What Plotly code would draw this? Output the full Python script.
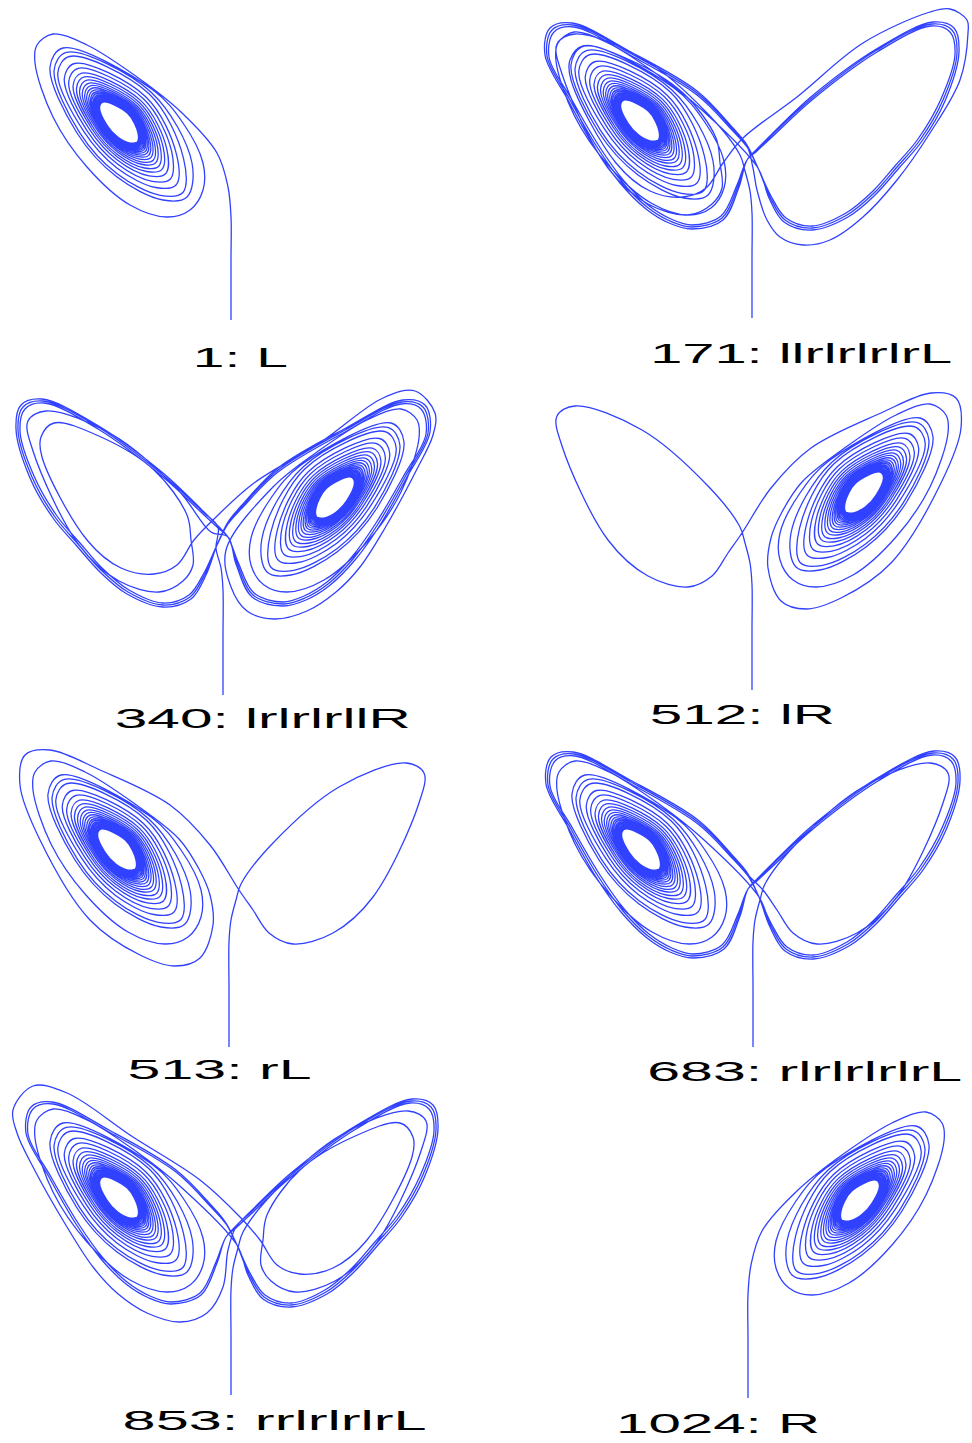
"""Eight symbolic Lorenz orbits drawn from hand-traced points."""

import plotly.graph_objects as go
from plotly.subplots import make_subplots

# Traced points, x and y in picture pixels measured from the foot of the stem.
STEM_CURL = [(0, 0), (0, 60), (0, 103), (-3, 133), (-14, 167)]
STEM_L = [(0, 0), (0, 60), (0, 105), (-2, 127), (-7, 147)]
STEM_R = [(0, 0), (0, 60), (0, 105), (2, 127), (7, 147)]

LEFT_A = [(9, 178), (-31, 215), (-98, 258), (-164, 302), (-198, 309), (-218, 285), (-214, 262),
          (-198, 228), (-164, 168), (-138, 128), (-114, 102), (-84, 82), (-51, 73), (-24, 82),
          (-8, 108), (-3, 145)]
LEFT_A2 = [(9, 176), (-31, 212), (-98, 253), (-160, 297), (-192, 304), (-212, 282), (-210, 260),
           (-194, 226), (-162, 167), (-137, 128), (-113, 103), (-84, 84), (-51, 76), (-24, 84),
           (-8, 108), (-3, 145)]
LEFT_B1 = [(-5, 172), (-20, 190), (-55, 225), (-122, 265), (-179, 293), (-200, 288), (-205, 262),
           (-182, 218), (-155, 171), (-130, 136), (-105, 111), (-82, 97), (-60, 91), (-30, 100),
           (-14, 132), (-5, 158)]
LEFT_B2 = [(-5, 171), (-20, 188), (-55, 223), (-122, 263), (-178, 291), (-198, 286), (-203, 261),
           (-180, 218), (-153, 172), (-128, 137), (-104, 113), (-81, 99), (-60, 93), (-31, 102),
           (-15, 133), (-5, 158)]
LEFT_B3 = [(-5, 173), (-20, 191), (-55, 227), (-123, 267), (-180, 295), (-202, 290), (-207, 263),
           (-184, 218), (-157, 170), (-132, 135), (-106, 109), (-83, 95), (-60, 89), (-29, 98),
           (-13, 131), (-5, 158)]
LEFT_C = [(-12, 163), (-44, 204), (-110, 260), (-177, 284), (-195, 274), (-190, 244), (-144, 150),
          (-104, 114), (-64, 103), (-40, 114)]
LEFT_D = [(-30, 130), (-32, 155), (-36, 180), (-69, 225), (-122, 258), (-169, 272), (-182, 258),
          (-181, 238), (-136, 155), (-102, 127), (-69, 121), (-46, 130), (-29, 155)]
LEFT_W = [(-19, 202), (-59, 242), (-129, 277), (-179, 297), (-204, 292), (-209, 262), (-189, 207),
          (-139, 127), (-89, 92), (-54, 81), (-29, 89), (-16, 122), (-19, 152), (-30, 178)]

RIGHT_A = [(-9, 180), (45, 221), (111, 275), (178, 306), (198, 309), (215, 298), (216, 285),
           (208, 238), (178, 185), (145, 138), (111, 101), (78, 78), (51, 73), (28, 81),
           (15, 98), (5, 128), (1, 150)]
RIGHT_B1 = [(5, 168), (20, 183), (60, 220), (125, 268), (180, 294), (200, 288), (205, 265),
            (191, 218), (168, 178), (145, 151), (122, 125), (95, 103), (60, 90), (33, 98),
            (18, 121), (6, 150)]
RIGHT_B2 = [(5, 167), (20, 181), (60, 218), (125, 266), (179, 292), (198, 286), (203, 264),
            (189, 219), (166, 179), (143, 152), (121, 127), (94, 105), (60, 92), (34, 100),
            (19, 122), (6, 150)]
RIGHT_B3 = [(5, 169), (20, 184), (60, 222), (126, 270), (181, 296), (202, 290), (207, 266),
            (193, 217), (170, 177), (147, 150), (123, 123), (96, 101), (60, 88), (32, 96),
            (17, 120), (6, 150)]
RIGHT_C = [(12, 163), (44, 204), (110, 260), (177, 284), (195, 274), (190, 244), (144, 150),
           (104, 114), (64, 103), (40, 114)]
RIGHT_C_EXIT = [(24, 137), (10, 157)]
RIGHT_D = [(30, 130), (32, 155), (36, 180), (69, 225), (122, 258), (169, 272), (182, 258),
           (181, 238), (136, 155), (102, 127), (69, 121), (46, 130), (29, 155)]

OUTER = [(-50, 208), (-94, 243), (-144, 275), (-178, 286), (-194, 275), (-196, 257), (-178, 203),
         (-144, 153), (-101, 115), (-64, 103), (-41, 110), (-28, 130), (-28, 157), (-48, 197)]

SPIRAL = [
    (-78, 230), (-168, 272), (-181, 253), (-154, 187), (-114, 143), (-68, 120), (-44, 123), (-39, 157),
    (-80.1, 228.1), (-164.7, 267.6), (-176.9, 249.7), (-151.5, 187.7), (-113.9, 146.3), (-70.7, 124.7), (-48.1, 127.5),
    (-47.5, 161.7), (-82, 226.3), (-161.7, 263.5), (-173.2, 246.7), (-147.4, 188.8), (-113.8, 151.8), (-75.2, 132.5), (-55, 135),
    (-54.5, 165.6), (-85.3, 223.3), (-156.5, 256.5), (-166.7, 241.5), (-144.2, 189.6), (-113.8, 156.2), (-78.8, 138.7), (-60.6, 141),
    (-59.3, 168.3), (-87.6, 221.2), (-152.9, 251.7), (-162.3, 237.9), (-141.3, 190.4), (-113.7, 160), (-82, 144.2), (-65.4, 146.2),
    (-64.2, 170.9), (-89.9, 219.1), (-149.3, 246.8), (-157.9, 234.3), (-139, 191), (-113.6, 163.1), (-84.4, 148.5), (-69.2, 150.4),
    (-67.9, 173), (-91.6, 217.5), (-146.6, 243.1), (-154.5, 231.6), (-137.2, 191.5), (-113.6, 165.5), (-86.4, 152), (-72.3, 153.7),
    (-71.2, 174.8), (-93.2, 216.1), (-144.1, 239.8), (-151.4, 229.1), (-135.3, 192), (-113.5, 168), (-88.5, 155.5), (-75.4, 157.1),
    (-74.1, 176.5), (-94.6, 214.8), (-141.9, 236.9), (-148.7, 226.9), (-133.9, 192.4), (-113.5, 169.9), (-90, 158.2), (-77.8, 159.7),
    (-76.7, 177.9), (-95.8, 213.7), (-140, 234.3), (-146.3, 225), (-132.5, 192.8), (-113.5, 171.9), (-91.6, 160.9), (-80.2, 162.4),
    (-79, 179.1), (-96.9, 212.7), (-138.3, 232), (-144.3, 223.3), (-131.2, 193.1), (-113.4, 173.5), (-93, 163.3), (-82.3, 164.6),
    (-81.2, 180.4), (-97.9, 211.8), (-136.7, 229.8), (-142.2, 221.7), (-130.1, 193.4), (-113.4, 175), (-94.2, 165.4), (-84.2, 166.6),
    (-83, 181.4), (-98.8, 211), (-135.3, 228), (-140.5, 220.3), (-129.2, 193.7), (-113.4, 176.3), (-95.2, 167.2), (-85.7, 168.4),
    (-84.5, 182.2), (-99.5, 210.3), (-134.2, 226.5), (-139.2, 219.2), (-128.4, 193.9), (-113.4, 177.4), (-96.1, 168.7), (-87.1, 169.9),
    (-86, 183), (-100.2, 209.7), (-133.1, 225), (-137.8, 218.1), (-127.7, 194.1), (-113.4, 178.3), (-96.9, 170.1), (-88.3, 171.1),
    (-87.1, 183.6), (-100.7, 209.2), (-132.3, 223.9), (-136.8, 217.3), (-127.1, 194.2), (-113.3, 179.1), (-97.6, 171.2), (-89.3, 172.3),
    (-88.2, 184.3), (-101.3, 208.7), (-131.4, 222.8), (-135.8, 216.4), (-126.4, 194.4), (-113.3, 180), (-98.2, 172.4), (-90.4, 173.4),
    (-89.3, 184.9), (-101.8, 208.2), (-130.6, 221.7), (-134.8, 215.6), (-125.9, 194.5), (-113.3, 180.7), (-98.8, 173.4), (-91.3, 174.4),
    (-90.1, 185.3), (-102.1, 207.9), (-130, 220.9), (-134.1, 215), (-125.5, 194.6), (-113.3, 181.2), (-99.3, 174.2), (-92, 175.1),
    (-90.8, 185.7), (-102.5, 207.6), (-129.5, 220.2), (-133.4, 214.5), (-125.1, 194.8), (-113.3, 181.8), (-99.7, 175), (-92.6, 175.9),
    (-91.5, 186.1), (-102.8, 207.3), (-129, 219.5), (-132.7, 214), (-124.7, 194.9), (-113.3, 182.3), (-100.2, 175.8), (-93.3, 176.6),
    (-92.3, 186.5), (-103.2, 207), (-128.4, 218.7), (-132, 213.4), (-124.3, 195), (-113.3, 182.9), (-100.6, 176.5), (-94, 177.4),
    (-93, 186.9), (-103.5, 206.6), (-127.9, 218), (-131.4, 212.9), (-124.1, 195), (-113.3, 183.1), (-100.8, 176.9), (-94.4, 177.7),
]

LABELS = ["1: L", "171: llrlrlrlrL", "340: lrlrlrllR", "512: lR",
          "513: rL", "683: rlrlrlrlrL", "853: rrlrlrlrL", "1024: R"]

ORBITS = [
    [STEM_CURL, OUTER, SPIRAL],
    [STEM_L, LEFT_C, LEFT_D, RIGHT_A, LEFT_B1, RIGHT_B1, LEFT_B2, RIGHT_B2, LEFT_B3, RIGHT_B3, OUTER, SPIRAL],
    [STEM_R, RIGHT_B1, LEFT_B1, RIGHT_B2, LEFT_B2, RIGHT_B3, LEFT_B3, RIGHT_C, RIGHT_D, LEFT_A2, OUTER, SPIRAL],
    [STEM_R, RIGHT_C, RIGHT_C_EXIT, LEFT_W, OUTER, SPIRAL],
    [STEM_R, RIGHT_C, RIGHT_C_EXIT, LEFT_W, OUTER, SPIRAL],
    [STEM_R, RIGHT_C, RIGHT_C_EXIT, LEFT_B1, RIGHT_B1, LEFT_B2, RIGHT_B2, LEFT_B3, RIGHT_B3, LEFT_B1, RIGHT_B1, OUTER, SPIRAL],
    [STEM_R, RIGHT_C, RIGHT_D, LEFT_A, RIGHT_B1, LEFT_B1, RIGHT_B2, LEFT_B2, RIGHT_B3, OUTER, SPIRAL],
    [STEM_CURL, OUTER, SPIRAL],
]

# Layout of the page, in pixels: stem foot of each panel and label boxes.
WIDTH, HEIGHT = 972, 1443
STEM_FOOT_X = [231, 752, 223, 752, 229, 753, 231, 748]
STEM_FOOT_Y = [320, 318, 695, 690, 1047, 1047, 1395, 1398]
MIRRORED = [False, False, True, True, False, False, False, True]
LABEL_LEFT = [193, 650, 115, 650, 127, 647, 122, 616]
LABEL_RIGHT = [288, 952, 411, 835, 311, 962, 426, 820]
LABEL_MID_Y = [358, 353, 718, 714, 1069, 1071, 1420, 1423]

LINE_COLOR = "#3041ff"

fig = make_subplots(rows=4, cols=2, horizontal_spacing=0, vertical_spacing=0)
col_w = WIDTH / 2
row_h = HEIGHT / 4

for i, orbit in enumerate(ORBITS):
    row, col = i // 2 + 1, i % 2 + 1
    pts = [p for loop in orbit for p in loop]
    fig.add_trace(
        go.Scatter(
            x=[p[0] for p in pts],
            y=[p[1] for p in pts],
            mode="lines",
            line=dict(color=LINE_COLOR, width=1.3, shape="spline", smoothing=1.0),
            hoverinfo="skip",
            showlegend=False,
        ),
        row=row,
        col=col,
    )
    left, right = (col - 1) * col_w, col * col_w
    top, bottom = (row - 1) * row_h, row * row_h
    ox, oy = STEM_FOOT_X[i], STEM_FOOT_Y[i]
    if MIRRORED[i]:
        x_range = [ox - left, ox - right]
    else:
        x_range = [left - ox, right - ox]
    fig.update_xaxes(range=x_range, visible=False, row=row, col=col)
    fig.update_yaxes(range=[oy - bottom, oy - top], visible=False, row=row, col=col)
    fig.add_annotation(
        text=LABELS[i],
        xref="paper",
        yref="paper",
        x=(LABEL_LEFT[i] + LABEL_RIGHT[i]) / 2 / WIDTH,
        y=1 - LABEL_MID_Y[i] / HEIGHT,
        xanchor="center",
        yanchor="middle",
        showarrow=False,
        font=dict(family="Liberation Sans", size=28, color="black"),
    )

fig.update_layout(
    width=WIDTH,
    height=HEIGHT,
    margin=dict(l=0, r=0, t=0, b=0),
    paper_bgcolor="white",
    plot_bgcolor="white",
)

# The labels in the source are stretched sideways; SVG textLength does that here.
widths = [r - l for l, r in zip(LABEL_LEFT, LABEL_RIGHT)]
stretch = f"""
document.body.style.margin = '0';
var widths = {widths};
document.querySelectorAll('.annotation-text').forEach(function (t, i) {{
    t.setAttribute('textLength', widths[i]);
    t.setAttribute('lengthAdjust', 'spacingAndGlyphs');
}});
"""

fig.write_html("out.html", config={"displayModeBar": False}, post_script=stretch)
